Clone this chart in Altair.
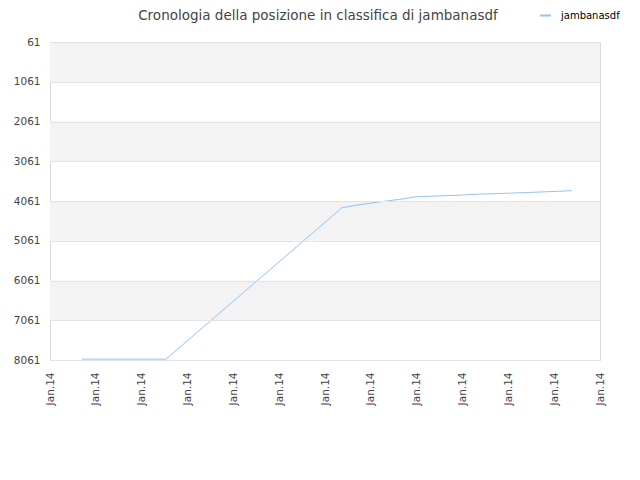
import altair as alt
import pandas as pd

# data
x_pos = [0.7, 2.53, 6.37, 6.75, 7.19, 7.63, 7.99, 8.86, 9.41, 9.96, 10.54, 11.09, 11.38]
rank = [8040, 8040, 4230, 4154, 4086, 4018, 3953, 3918, 3885, 3867, 3842, 3817, 3802]
series = "jambanasdf"
tick_values = list(range(13))
tick_label = "Jan.14"
y_ticks = [61, 1061, 2061, 3061, 4061, 5061, 6061, 7061, 8061]
band_start = [61, 2061, 4061, 6061]
band_end = [1061, 3061, 5061, 7061]

df = pd.DataFrame({"x": x_pos, "y": rank, "s": [series] * len(x_pos)})
bands = pd.DataFrame({"y": band_start, "y2": band_end})

yscale = alt.Scale(domain=[61, 8061], reverse=True, nice=False, zero=False)
xscale = alt.Scale(domain=[0, 12], nice=False, zero=False)

yaxis = alt.Axis(
    values=y_ticks, format="d", labelOverlap=False, labelBound=False,
    title=None, grid=True, gridColor="#e3e3e3", zindex=1,
    ticks=False, domain=False, labelPadding=10, labelFontSize=10.5,
    labelColor="#444", labelFont="DejaVu Sans")

band_layer = alt.Chart(bands).mark_rect(color="#f3f3f3").encode(
    y=alt.Y("y:Q", scale=yscale, axis=yaxis),
    y2="y2:Q",
    x=alt.value(0),
    x2=alt.value(550),
)

line_layer = alt.Chart(df).mark_line(strokeWidth=1).encode(
    x=alt.X("x:Q", scale=xscale, axis=alt.Axis(
        values=tick_values, labelExpr=f"'{tick_label}'", title=None,
        grid=False, ticks=False, domain=False, labelAngle=-90,
        labelOverlap=False,
        labelFontSize=10.5, labelColor="#444", labelFont="DejaVu Sans",
        labelPadding=12)),
    y=alt.Y("y:Q", scale=yscale, axis=yaxis),
    color=alt.Color("s:N", scale=alt.Scale(range=["#92c4f2"]), legend=alt.Legend(
        title=None, orient="none", legendX=489, legendY=-33,
        symbolType="stroke", symbolSize=120, symbolStrokeWidth=2,
        labelOffset=9,
        labelFontSize=10, labelColor="#000", labelFont="DejaVu Sans")),
)

chart = alt.layer(band_layer, line_layer).properties(
    width=550,
    height=318,
    title=alt.TitleParams(
        "Cronologia della posizione in classifica di jambanasdf",
        fontSize=13.5, fontWeight="normal", color="#444", font="DejaVu Sans",
        anchor="middle", dx=-7, offset=-13),
    autosize=alt.AutoSizeParams(type="none"),
    padding={"left": 42, "top": 34, "right": 32, "bottom": 100},
).configure_view(stroke="#d8d8d8", strokeWidth=1).configure_axisY(
    labelOverlap=False)

chart.save("out.html", embed_options={"renderer": "svg", "actions": False})
